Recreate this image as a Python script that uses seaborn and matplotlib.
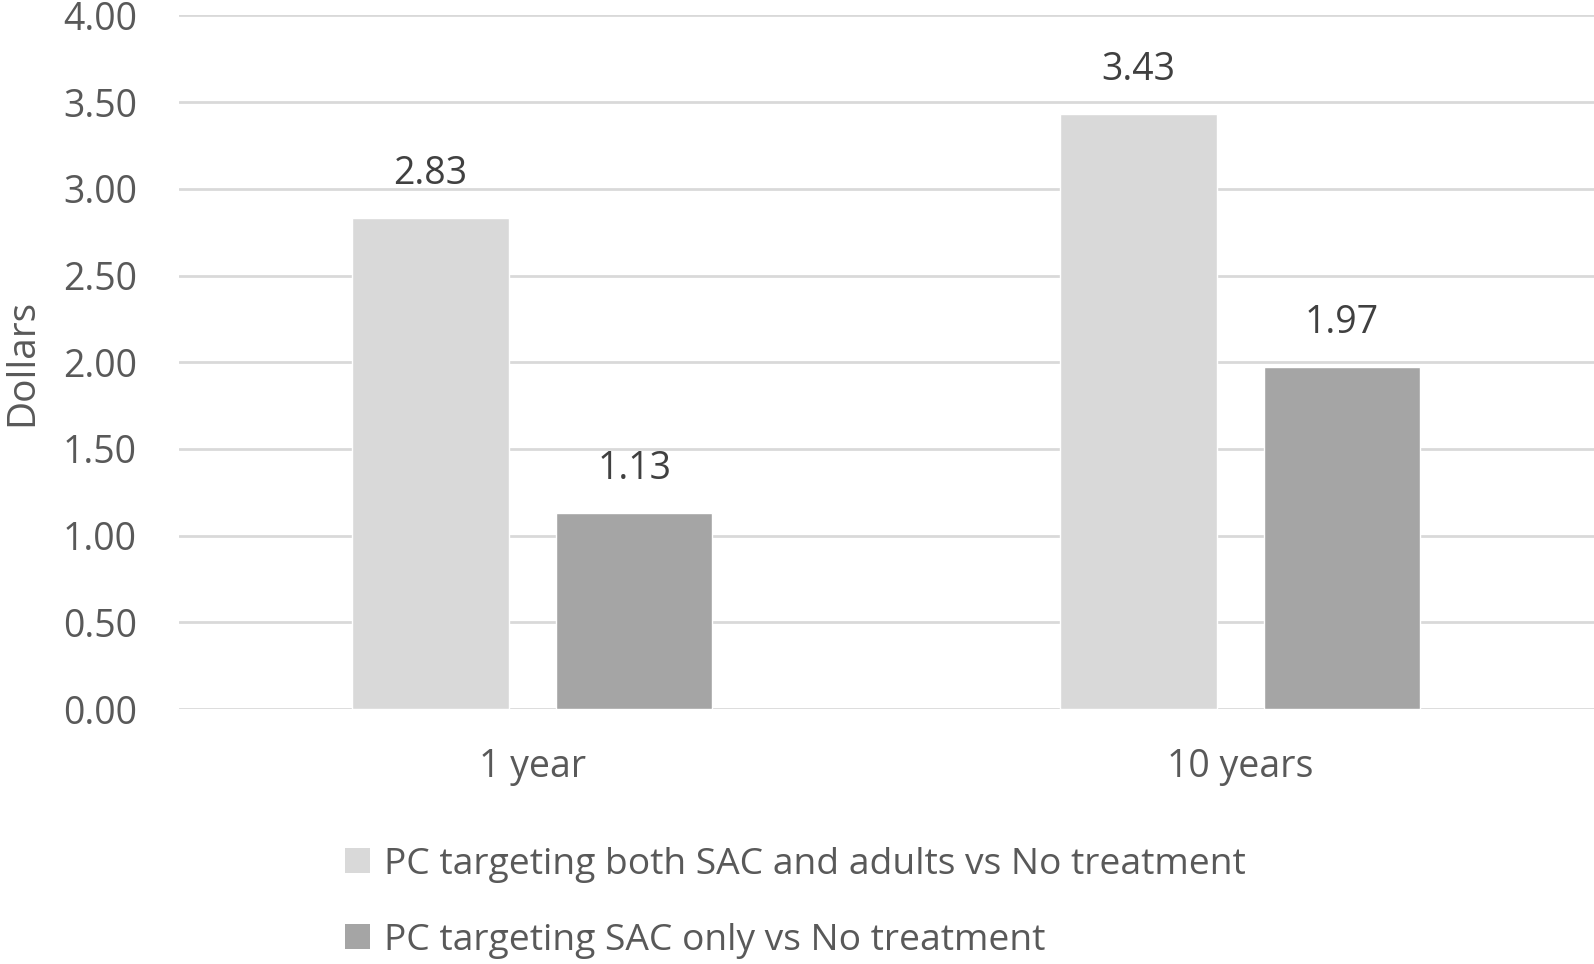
import matplotlib
matplotlib.use("Agg")
import matplotlib.pyplot as plt
import seaborn as sns
import pandas as pd
from matplotlib.patches import Patch

periods = ["1 year", "10 years"]
series_names = ["PC targeting both SAC and adults vs No treatment",
                "PC targeting SAC only vs No treatment"]
both_vals = [2.83, 3.43]
sac_only_vals = [1.13, 1.97]
y_ticks = [0.0, 0.5, 1.0, 1.5, 2.0, 2.5, 3.0, 3.5, 4.0]

colors = ["#d9d9d9", "#a5a5a5"]
text_col = "#595959"

df = pd.DataFrame({
    "period": periods * 2,
    "series": [series_names[0]] * 2 + [series_names[1]] * 2,
    "value": both_vals + sac_only_vals,
})

sns.set_theme(style="white")
plt.rcParams["font.family"] = ["Open Sans", "DejaVu Sans"]

fig = plt.figure(figsize=(15.94, 9.64), dpi=100)
ax = fig.add_axes([0.112, 0.2645, 0.888, 0.7195])

sns.barplot(data=df, x="period", y="value", hue="series", palette=colors,
            width=0.575, gap=0.23, ax=ax, legend=False, saturation=1)

ax.set_ylim(0, 4.0)
ax.set_xlim(-0.5, 1.5)
ax.set_yticks(y_ticks)
ax.set_yticklabels([f"{v:.2f}" for v in y_ticks])
ax.yaxis.grid(True, color="#d9d9d9", linewidth=2)
ax.set_axisbelow(True)
for s in ax.spines.values():
    s.set_visible(False)
ax.tick_params(axis="both", length=0, labelsize=27, labelcolor=text_col)
ax.tick_params(axis="y", pad=30)
ax.tick_params(axis="x", pad=28)
ax.set_xlabel("")
ax.set_ylabel("Dollars", fontsize=28, color=text_col, va="top")
ax.yaxis.set_label_coords(-0.124, 0.5)

for cont in ax.containers:
    for bar in cont:
        h = bar.get_height()
        ax.annotate(f"{h:.2f}", (bar.get_x() + bar.get_width() / 2, h),
                    xytext=(0, 32), textcoords="offset points",
                    ha="center", va="center", fontsize=27, color="#404040")

handles = [Patch(facecolor=c, edgecolor="none") for c in colors]
fig.legend(handles, series_names, loc="upper left",
           bbox_to_anchor=(0.205, 0.141), frameon=False, fontsize=26.8,
           labelcolor=text_col, handlelength=0.65, handleheight=0.65,
           handletextpad=0.4, labelspacing=1.08, borderpad=0)

fig.savefig("out.png", dpi=100)
